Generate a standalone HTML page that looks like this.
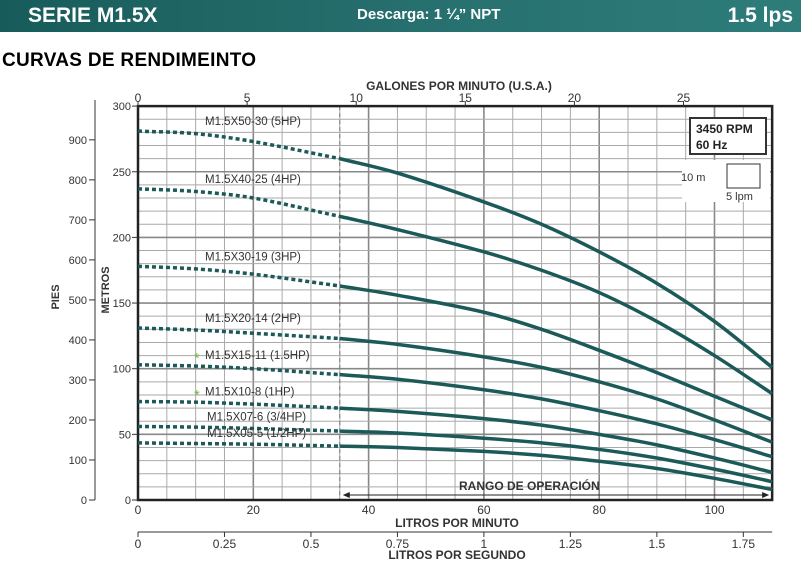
<!DOCTYPE html>
<html><head><meta charset="utf-8"><style>
body{margin:0;width:801px;height:571px;background:#fff;overflow:hidden;font-family:"Liberation Sans",sans-serif;}
#hdr{position:absolute;left:0;top:0;width:801px;height:32px;background:linear-gradient(90deg,#175c5b,#266f6e 50%,#2e7d7b);color:#fff;}
#hdr span{position:absolute;top:5px;font-weight:bold}
svg{position:absolute;left:0;top:0}
</style></head><body>
<div id="hdr">
<span style="left:28px;font-size:21px;top:4px">SERIE M1.5X</span>
<span style="left:357px;font-size:15px;top:6px">Descarga: 1 ¼” NPT</span>
<span style="right:8px;font-size:21px;top:4px">1.5 lps</span>
</div>
<div style="position:absolute;left:2px;top:50px;font-weight:bold;font-size:19px;letter-spacing:0.3px">CURVAS DE RENDIMEINTO</div>
<svg id="chart" width="801" height="571"></svg>
<script>
const lpm=[0,10,20,35,45,60,70,80,90,100,110];
const h5=[281,279,273,260,249,227,210,189,165,136,101];
const h4=[237,235,230,216,206,189,175,158,136,110,81];
const h3=[178,176,172,163,156,143,130,114,97,79,61];
const h2=[131,129.5,127,123,118.5,109,101,90,77,61,44];
const h15=[103,102,100,95.5,92,84,77,68,58,46,33];
const h1=[75,74.5,73,70,67.5,62,57,50,42,32,21];
const h075=[56,55.5,54.5,52.5,51,47,43.5,38.5,32,23.5,14];
const h05=[43.5,43,42.5,41,40,37,34,29.5,24,16.5,8];
const seriesNames=["M1.5X50-30 (5HP)","M1.5X40-25 (4HP)","M1.5X30-19 (3HP)","M1.5X20-14 (2HP)","M1.5X15-11 (1.5HP)","M1.5X10-8 (1HP)","M1.5X07-6 (3/4HP)","M1.5X05-5 (1/2HP)"];
const seriesVals=[h5,h4,h3,h2,h15,h1,h075,h05];
const metroTicks=[0,50,100,150,200,250,300];
const piesTicks=[0,100,200,300,400,500,600,700,800,900];
const lpmTicks=[0,20,40,60,80,100];
const gpmTicks=[0,5,10,15,20,25];
const lpsTicks=[0,0.25,0.5,0.75,1,1.25,1.5,1.75];
const lpsLabels=["0","0.25","0.5","0.75","1","1.25","1.5","1.75"];
const opStart=35;

const X=v=>138+v*5.765;
const Y=m=>500-m*1.313;
const svg=document.getElementById('chart');
const NS='http://www.w3.org/2000/svg';
function mk(t,a,p){const e=document.createElementNS(NS,t);for(const k in a)e.setAttribute(k,a[k]);(p||svg).appendChild(e);return e;}
function txt(x,y,s,a,p){const e=mk('text',Object.assign({x:x,y:y,'font-family':'Liberation Sans, sans-serif','font-size':11,fill:'#333'},a||{}),p);e.textContent=s;return e;}
for(let v=0;v<=110;v+=5){const l=mk('line',{x1:X(v),x2:X(v),y1:Y(300),y2:Y(0),stroke:v%20==0?'#888':'#aaa','stroke-width':v%20==0?1.6:1});

}
for(let m=0;m<=300;m+=10){const l=mk('line',{x1:X(0),x2:X(110),y1:Y(m),y2:Y(m),stroke:m%50==0?'#888':'#aaa','stroke-width':m%50==0?1.6:1});

}
const dl=mk('line',{x1:X(opStart),x2:X(opStart),y1:Y(300),y2:Y(0),stroke:'#777','stroke-dasharray':'4,3'});


const fr=mk('rect',{x:X(0),y:Y(300),width:X(110)-X(0),height:Y(0)-Y(300),fill:'none',stroke:'#222','stroke-width':2.5});


function path(xs,ys){let p=xs.map((x,i)=>[X(x),Y(ys[i])]);let d='M'+p[0][0]+','+p[0][1];
for(let i=0;i<p.length-1;i++){const p0=p[i-1]||p[i],p1=p[i],p2=p[i+1],p3=p[i+2]||p2;
const dx=p2[0]-p1[0];
const t1=(p2[1]-p0[1])/((p2[0]-p0[0])||1), t2=(p3[1]-p1[1])/((p3[0]-p1[0])||1);
d+=' C'+(p1[0]+dx/3)+','+(p1[1]+t1*dx/3)+' '+(p2[0]-dx/3)+','+(p2[1]-t2*dx/3)+' '+p2[0]+','+p2[1];}return d;}
const k=lpm.indexOf(opStart);
seriesVals.forEach((vals,i)=>{
 const g=mk('g',{});
 
 
 mk('path',{d:path(lpm.slice(0,k+1),vals.slice(0,k+1)),fill:'none',stroke:'#1b5a58','stroke-width':3.5,'stroke-dasharray':'4,3'},g);
 mk('path',{d:path(lpm.slice(k),vals.slice(k)),fill:'none',stroke:'#1b5a58','stroke-width':3.5},g);
 const t=txt(X(0)+67,Y(vals[0])-6,seriesNames[i],{'font-size':11.5,fill:'#333'});
 if(i>=6){t.setAttribute('x',X(0)+69);}
 
 
});
const s1=txt(194,363,'*',{fill:'#7ab648','font-size':15});


const s2=txt(194,400,'*',{fill:'#7ab648','font-size':15});


metroTicks.forEach(m=>{mk('line',{x1:X(0)-6,x2:X(0),y1:Y(m),y2:Y(m),stroke:'#333'});
const t=txt(X(0)-7,Y(m)+4,String(m),{'text-anchor':'end'});

});
mk('line',{x1:95,x2:95,y1:100,y2:Y(0),stroke:'#333'});
piesTicks.forEach(f=>{const y=Y(f/3.281);mk('line',{x1:89,x2:95,y1:y,y2:y,stroke:'#333'});
const t=txt(87,y+4,String(f),{'text-anchor':'end'});

});
const pt=txt(0,0,'PIES',{'font-weight':'bold','font-size':11,'text-anchor':'middle',transform:'translate(59,297) rotate(-90)'});


const mt=txt(0,0,'METROS',{'font-weight':'bold','font-size':11,'text-anchor':'middle',transform:'translate(109,290) rotate(-90)'});


lpmTicks.forEach(v=>{const t=txt(X(v),514,String(v),{'text-anchor':'middle','font-size':12});

});
const lt=txt(457,527,'LITROS POR MINUTO',{'font-weight':'bold','font-size':12,'text-anchor':'middle'});


gpmTicks.forEach(v=>{const x=X(v*3.785);mk('line',{x1:x,x2:x,y1:Y(300)-5,y2:Y(300),stroke:'#333'});
const t=txt(x,102,String(v),{'text-anchor':'middle','font-size':12});

});
const gt=txt(459,90,'GALONES POR MINUTO (U.S.A.)',{'font-weight':'bold','font-size':12,'text-anchor':'middle'});


mk('line',{x1:X(0),x2:X(110),y1:532,y2:532,stroke:'#333'});
lpsTicks.forEach((v,i)=>{const x=X(v*60);mk('line',{x1:x,x2:x,y1:532,y2:537,stroke:'#333'});
const t=txt(x,548,lpsLabels[i],{'text-anchor':'middle','font-size':12});

});
const st=txt(457,559,'LITROS POR SEGUNDO',{'font-weight':'bold','font-size':12,'text-anchor':'middle'});


const ar=mk('g',{});


mk('line',{x1:X(opStart)+4,x2:X(110)-4,y1:495,y2:495,stroke:'#222'},ar);
mk('path',{d:'M'+(X(opStart)+3)+',495 l7,-3 v6z',fill:'#222'},ar);
mk('path',{d:'M'+(X(110)-3)+',495 l-7,-3 v6z',fill:'#222'},ar);
const rt=txt(459,490,'RANGO DE OPERACIÓN',{'font-weight':'bold','font-size':12,fill:'#333'});


const rb=mk('g',{});


mk('rect',{x:690,y:118,width:76,height:36,fill:'#fff',stroke:'#333','stroke-width':2},rb);
txt(696,133,'3450 RPM',{'font-weight':'bold','font-size':12,fill:'#222'},rb);
txt(696,149,'60 Hz',{'font-weight':'bold','font-size':12,fill:'#222'},rb);
const sb=mk('g',{});


mk('rect',{x:682,y:160,width:88,height:42,fill:'#fff'},sb);
mk('rect',{x:727,y:164,width:33,height:24,fill:'#fff',stroke:'#333'},sb);
txt(681,181,'10 m',{'font-size':11},sb);
txt(726,200,'5 lpm',{'font-size':11},sb);
</script>
</body></html>
